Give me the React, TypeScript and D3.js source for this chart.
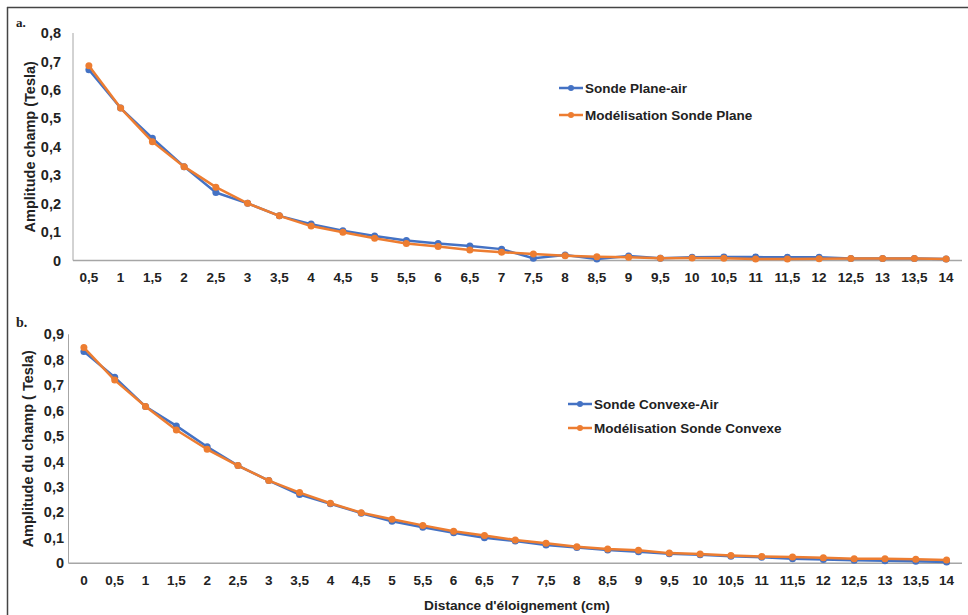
import React, { useEffect } from "react";
import * as d3 from "d3";

const catsA = ["0,5","1","1,5","2","2,5","3","3,5","4","4,5","5","5,5","6","6,5","7","7,5","8","8,5","9","9,5","10","10,5","11","11,5","12","12,5","13","13,5","14"];
const sondePlaneAir = [0.671,0.536,0.430,0.330,0.239,0.201,0.157,0.128,0.105,0.086,0.070,0.060,0.051,0.040,0.008,0.019,0.005,0.016,0.008,0.011,0.012,0.012,0.011,0.011,0.007,0.007,0.007,0.005];
const modelPlane = [0.685,0.536,0.418,0.330,0.258,0.201,0.157,0.121,0.099,0.078,0.060,0.049,0.037,0.029,0.023,0.017,0.013,0.011,0.008,0.009,0.008,0.005,0.005,0.006,0.007,0.007,0.007,0.005];
const ticksA = [0,0.1,0.2,0.3,0.4,0.5,0.6,0.7,0.8];

const catsB = ["0","0,5","1","1,5","2","2,5","3","3,5","4","4,5","5","5,5","6","6,5","7","7,5","8","8,5","9","9,5","10","10,5","11","11,5","12","12,5","13","13,5","14"];
const sondeConvexeAir = [0.832,0.731,0.616,0.540,0.458,0.384,0.325,0.270,0.234,0.197,0.165,0.142,0.120,0.100,0.088,0.072,0.062,0.052,0.045,0.038,0.034,0.028,0.024,0.018,0.015,0.012,0.010,0.008,0.005];
const modelConvexe = [0.848,0.720,0.616,0.524,0.448,0.384,0.325,0.278,0.236,0.199,0.173,0.149,0.126,0.109,0.092,0.079,0.065,0.056,0.051,0.040,0.037,0.031,0.027,0.025,0.022,0.018,0.018,0.016,0.013];
const ticksB = [0,0.1,0.2,0.3,0.4,0.5,0.6,0.7,0.8,0.9];

const BLUE = "#4472C4";
const ORANGE = "#ED7D31";
const FONT = "'Liberation Sans', Arial, sans-serif";
const fmt = (v: number) => (v === 0 ? "0" : d3.format(".1f")(v).replace(".", ","));

type PanelProps = {
  cats: string[];
  s1: number[];
  s2: number[];
  ticks: number[];
  yMax: number;
  x0: number; x1: number; yTop: number; yBottom: number;
  ytitle: string; ytitleX: number;
  tickLabelRight: number;
  xLabelY: number;
  legendX: number; legendY1: number; legendY2: number;
  names: [string, string];
};

function Panel(p: PanelProps) {
  const x = d3.scaleBand<string>().domain(p.cats).range([p.x0, p.x1]);
  const y = d3.scaleLinear().domain([0, p.yMax]).range([p.yBottom, p.yTop]);
  const cx = (c: string) => (x(c) as number) + x.bandwidth() / 2;
  const line = d3.line<number>().x((_, i) => cx(p.cats[i])).y((d) => y(d));
  const series = [
    { vals: p.s1, color: BLUE },
    { vals: p.s2, color: ORANGE },
  ];
  const legend = [
    { name: p.names[0], color: BLUE, y: p.legendY1 },
    { name: p.names[1], color: ORANGE, y: p.legendY2 },
  ];
  return (
    <g>
      <line x1={p.x0} x2={p.x0} y1={p.yTop} y2={p.yBottom} stroke="#a6a6a6" strokeWidth={1} />
      <line x1={p.x0} x2={p.x1} y1={p.yBottom} y2={p.yBottom} stroke="#a6a6a6" strokeWidth={1.5} />
      {p.ticks.map((t) => (
        <text key={t} x={p.tickLabelRight} y={y(t)} dy="0.35em" textAnchor="end" fontSize={14.5} fontWeight="bold" fontFamily={FONT} fill="#222">
          {fmt(t)}
        </text>
      ))}
      {p.cats.map((c) => (
        <text key={c} x={cx(c)} y={p.xLabelY} dy="0.35em" textAnchor="middle" fontSize={13.5} fontWeight="bold" fontFamily={FONT} fill="#222">
          {c}
        </text>
      ))}
      <text transform={`translate(${p.ytitleX},${(p.yTop + p.yBottom) / 2}) rotate(-90)`} textAnchor="middle" dy="0.35em" fontSize={14.5} fontWeight="bold" fontFamily={FONT} fill="#222">
        {p.ytitle}
      </text>
      {series.map((s, si) => (
        <g key={si}>
          <path d={line(s.vals) || ""} fill="none" stroke={s.color} strokeWidth={2.5} strokeLinejoin="round" />
          {s.vals.map((v, i) => (
            <circle key={i} cx={cx(p.cats[i])} cy={y(v)} r={3.5} fill={s.color} />
          ))}
        </g>
      ))}
      {legend.map((l) => (
        <g key={l.name}>
          <line x1={p.legendX} x2={p.legendX + 24} y1={l.y} y2={l.y} stroke={l.color} strokeWidth={2.5} />
          <circle cx={p.legendX + 12} cy={l.y} r={3} fill={l.color} />
          <text x={p.legendX + 26} y={l.y} dy="0.35em" fontSize={13.5} fontWeight="bold" fontFamily={FONT} fill="#222">
            {l.name}
          </text>
        </g>
      ))}
    </g>
  );
}

export default function App() {
  useEffect(() => {
    document.body.style.margin = "0";
    document.body.style.overflow = "hidden";
    document.documentElement.style.overflow = "hidden";
  }, []);
  return (
    <svg width={968} height={615} style={{ position: "absolute", left: 0, top: 0, background: "#fff", display: "block" }}>
      <rect x={0} y={0} width={968} height={615} fill="#fff" />
      <line x1={7} x2={968} y1={7.5} y2={7.5} stroke="#444" strokeWidth={1.5} />
      <line x1={7.5} x2={7.5} y1={7} y2={615} stroke="#444" strokeWidth={1.5} />
      <text x={16} y={27} fontSize={13} fontWeight="bold" fontFamily="'Liberation Serif', 'Times New Roman', serif" fill="#222">a.</text>
      <text x={16} y={327} fontSize={14} fontWeight="bold" fontFamily="'Liberation Serif', 'Times New Roman', serif" fill="#222">b.</text>
      <Panel
        cats={catsA} s1={sondePlaneAir} s2={modelPlane} ticks={ticksA} yMax={0.8}
        x0={73} x1={962} yTop={33} yBottom={260.5}
        ytitle="Amplitude champ (Tesla)" ytitleX={30}
        tickLabelRight={61} xLabelY={277}
        legendX={559} legendY1={88} legendY2={115}
        names={["Sonde Plane-air", "Modélisation Sonde Plane"]}
      />
      <Panel
        cats={catsB} s1={sondeConvexeAir} s2={modelConvexe} ticks={ticksB} yMax={0.9}
        x0={68.5} x1={962} yTop={334.3} yBottom={563.3}
        ytitle="Amplitude du champ ( Tesla)" ytitleX={28}
        tickLabelRight={64} xLabelY={580}
        legendX={568} legendY1={404} legendY2={428}
        names={["Sonde Convexe-Air", "Modélisation Sonde Convexe"]}
      />
      <text x={517} y={605} dy="0.35em" textAnchor="middle" fontSize={13.7} fontWeight="bold" fontFamily={FONT} fill="#222">
        Distance d'éloignement (cm)
      </text>
    </svg>
  );
}
